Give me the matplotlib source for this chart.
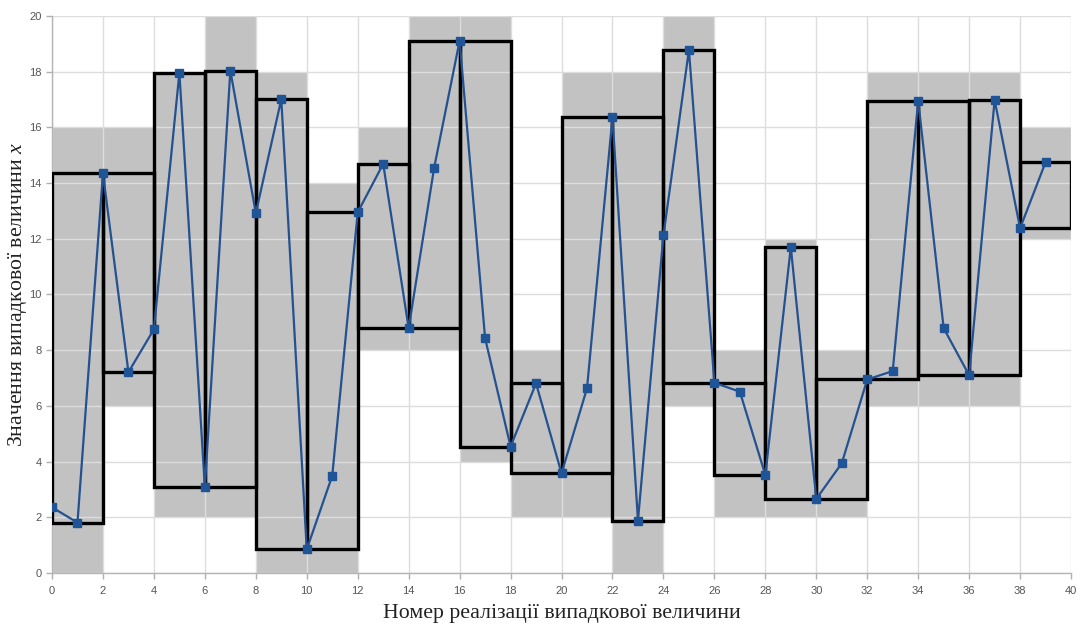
import numpy as np
import matplotlib
matplotlib.use("Agg")
import matplotlib.pyplot as plt
from matplotlib.patches import Rectangle

plt.rcParams["mathtext.fontset"] = "custom"
plt.rcParams["mathtext.it"] = "Liberation Serif:italic"
plt.rcParams["mathtext.rm"] = "Liberation Serif"

# Realisations of the random variable, index 0..39
values = [2.36, 1.81, 14.35, 7.21, 8.75, 17.96, 3.08, 18.04, 12.92, 17.01,
          0.85, 3.49, 12.95, 14.69, 8.79, 14.55, 19.11, 8.43, 4.54, 6.81,
          3.58, 6.63, 16.37, 1.88, 12.12, 18.78, 6.83, 6.51, 3.52, 11.70,
          2.66, 3.94, 6.95, 7.25, 16.96, 8.79, 7.10, 16.98, 12.38, 14.75]
window = 2          # width of each envelope segment
grid_step = 2       # envelope rounded to this grid step
x_ticks = list(range(0, 41, 2))
y_ticks = list(range(0, 21, 2))
x_label = "Номер реалізації випадкової величини"
y_label = "Значення випадкової величини $x$"

idx = np.arange(len(values))
vals = np.array(values)

fig = plt.figure(figsize=(10.81, 6.24), dpi=100)
ax = fig.add_axes([0.0481, 0.0817, 0.9427, 0.8927])
ax.set_xlim(0, 40)
ax.set_ylim(0, 20)

# envelope boxes over each segment [k, k+window]
for start in range(0, len(values), window):
    seg = vals[start:start + window + 1]
    lo, hi = seg.min(), seg.max()
    glo = np.floor(lo / grid_step) * grid_step
    ghi = np.ceil(hi / grid_step) * grid_step
    ax.add_patch(Rectangle((start, glo), window, ghi - glo,
                           facecolor="#c2c2c2", edgecolor="none", zorder=1))
    ax.add_patch(Rectangle((start, lo), window, hi - lo,
                           facecolor="none", edgecolor="black",
                           linewidth=2.4, zorder=3))

ax.set_xticks(x_ticks)
ax.set_yticks(y_ticks)
ax.grid(True, color="#dddddd", linewidth=1.0, zorder=2)
for gl in ax.get_xgridlines() + ax.get_ygridlines():
    gl.set_zorder(2)

ax.plot(idx, vals, color="#24518f", linewidth=1.6, marker="s",
        markersize=5.5, markerfacecolor="#1f5596", markeredgecolor="#1f5596",
        zorder=4)

for side in ("top", "right"):
    ax.spines[side].set_visible(False)
for side in ("left", "bottom"):
    ax.spines[side].set_color("#b5b5b5")
    ax.spines[side].set_linewidth(1.0)

ax.tick_params(axis="both", colors="#b0b0b0", labelcolor="#555555",
               labelsize=8, length=4, width=1)
ax.tick_params(axis="x", pad=5)
for lab in ax.get_xticklabels() + ax.get_yticklabels():
    lab.set_family("Liberation Sans")

ax.set_xlabel(x_label, family="Liberation Serif", fontsize=15.7,
              color="#222222")
ax.set_ylabel(y_label, family="Liberation Serif", fontsize=15.7,
              color="#222222")
ax.xaxis.set_label_coords(0.5, -0.056)
ax.yaxis.set_label_coords(-0.023, 0.5)

fig.savefig("out.png", dpi=100)
